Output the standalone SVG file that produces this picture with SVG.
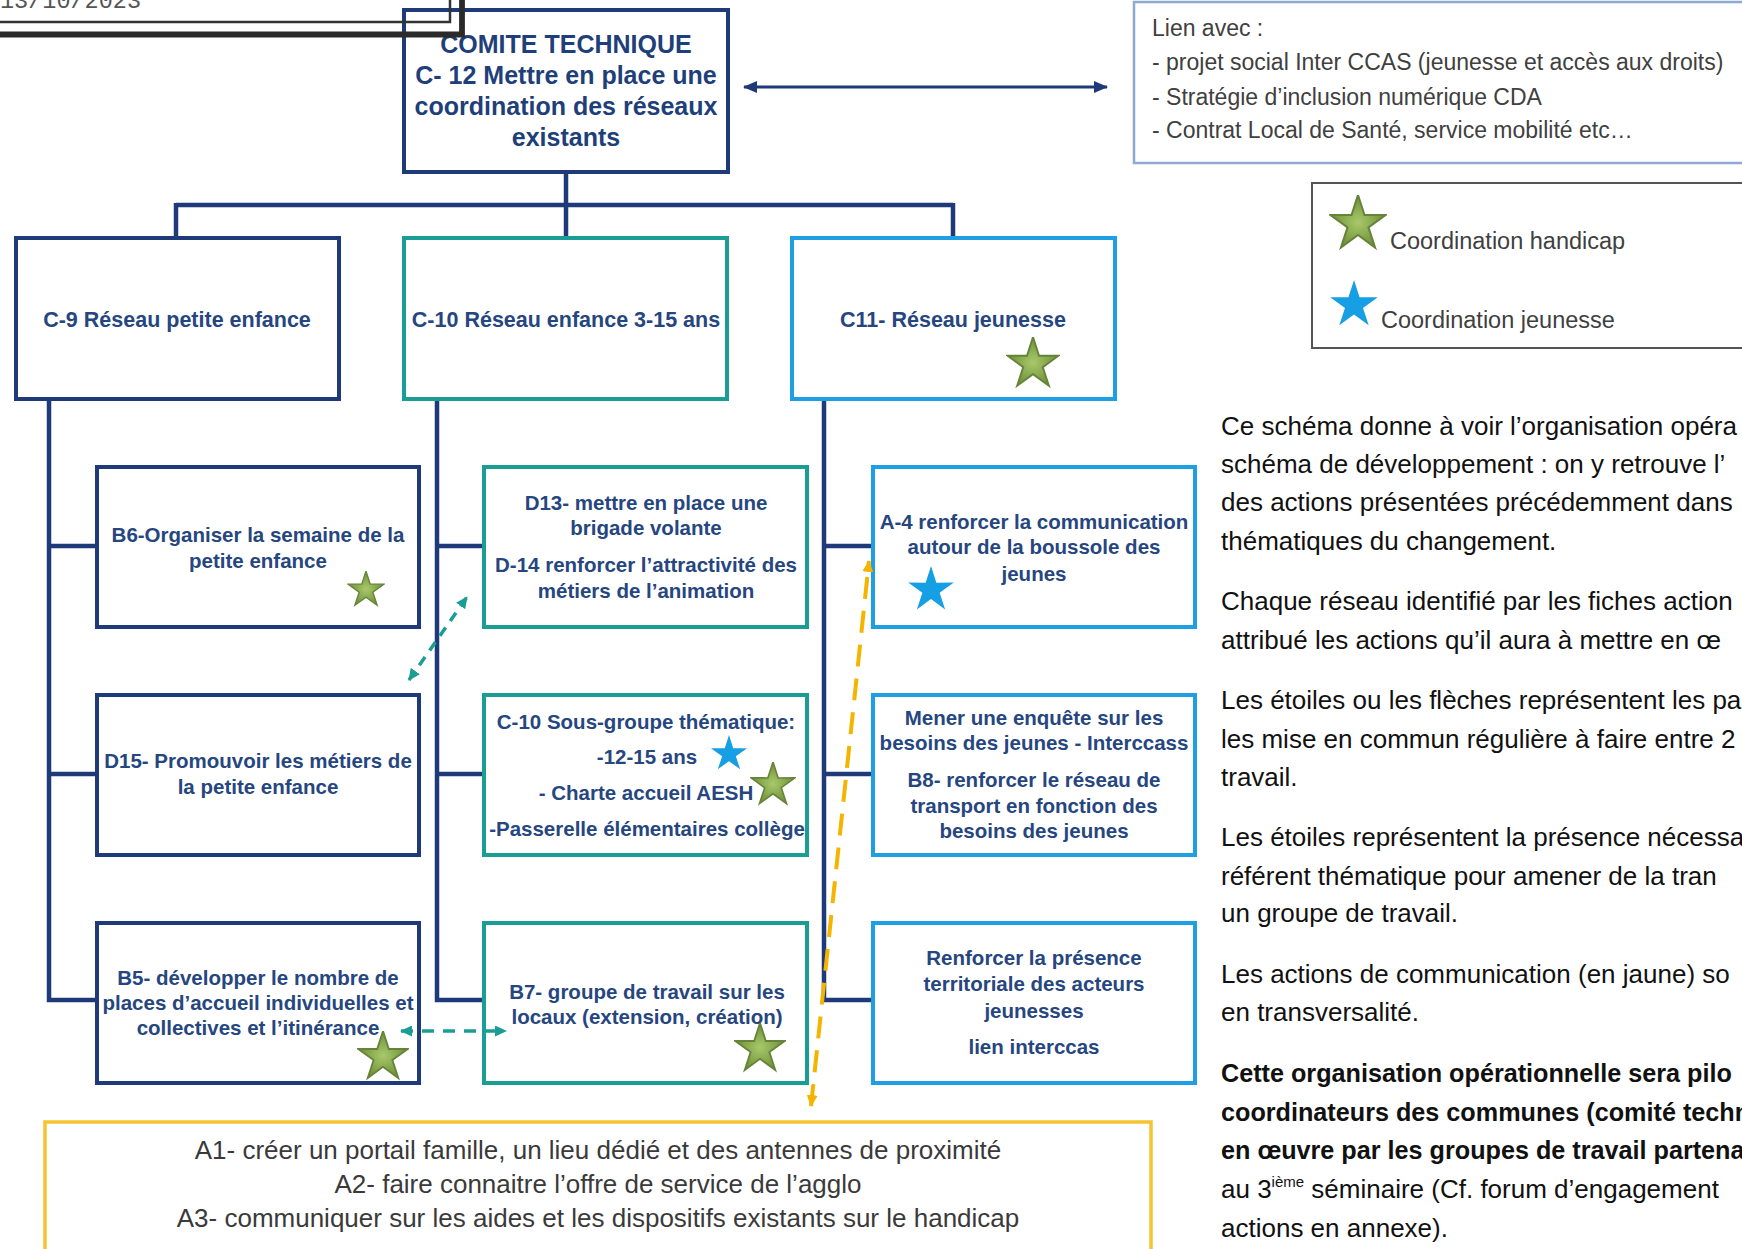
<svg xmlns="http://www.w3.org/2000/svg" xmlns:xlink="http://www.w3.org/1999/xlink" width="1742" height="1249" viewBox="0 0 1742 1249">
<style>
.bn{fill:#fff;stroke:#1f3a78;stroke-width:4}
.bt{fill:#fff;stroke:#1a9d94;stroke-width:4}
.bl{fill:#fff;stroke:#1e9fe3;stroke-width:4}
.cn{fill:none;stroke:#1f3a78;stroke-width:4.5}
.tc{font-family:"Liberation Sans",Arial,sans-serif;font-weight:bold;font-size:25px;fill:#1f3f7a;text-anchor:middle}
.t2{font-family:"Liberation Sans",Arial,sans-serif;font-weight:bold;font-size:21.5px;fill:#26467f;text-anchor:middle}
.t3{font-family:"Liberation Sans",Arial,sans-serif;font-weight:bold;font-size:20.5px;fill:#26467f;text-anchor:middle}
.lien{font-family:"Liberation Sans",Arial,sans-serif;font-size:23px;fill:#404040}
.leg{font-family:"Liberation Sans",Arial,sans-serif;font-size:23.5px;fill:#404040}
.bot{font-family:"Liberation Sans",Arial,sans-serif;font-size:26px;fill:#3a3a3a;text-anchor:middle}
.para{font-family:"Liberation Sans",Arial,sans-serif;font-size:26px;fill:#111}
.pb{font-weight:bold;font-size:25.2px}
</style>
<defs>
<radialGradient id="gg" cx="50%" cy="52%" r="50%">
<stop offset="0" stop-color="#a8c86a"/>
<stop offset="1" stop-color="#70903a"/>
</radialGradient>
<symbol id="gstar" viewBox="-100 -100 200 200">
<path d="M0,-100 L22.3,-30.7 L95.1,-30.9 L36.1,11.7 L58.8,80.9 L0,38 L-58.8,80.9 L-36.1,11.7 L-95.1,-30.9 L-22.3,-30.7 Z" fill="url(#gg)" stroke="#66833a" stroke-width="7" stroke-linejoin="miter"/>
</symbol>
<symbol id="bstar" viewBox="-100 -100 200 200">
<path d="M0,-100 L22.3,-30.7 L95.1,-30.9 L36.1,11.7 L58.8,80.9 L0,38 L-58.8,80.9 L-36.1,11.7 L-95.1,-30.9 L-22.3,-30.7 Z" fill="#169fe4"/>
</symbol>
<marker id="ahn" viewBox="0 0 14 12" refX="13" refY="6" markerWidth="14" markerHeight="12" orient="auto-start-reverse" markerUnits="userSpaceOnUse">
<path d="M0,0 L14,6 L0,12 Z" fill="#1f3a78"/>
</marker>
<marker id="aht" viewBox="0 0 12 11" refX="11" refY="5.5" markerWidth="12" markerHeight="11" orient="auto-start-reverse" markerUnits="userSpaceOnUse">
<path d="M0,0 L12,5.5 L0,11 Z" fill="#1a9d94"/>
</marker>
<marker id="ahy" viewBox="0 0 12 11" refX="11" refY="5.5" markerWidth="12" markerHeight="11" orient="auto-start-reverse" markerUnits="userSpaceOnUse">
<path d="M0,0 L12,5.5 L0,11 Z" fill="#f4b400"/>
</marker>
</defs>

<rect x="0" y="0" width="1742" height="1249" fill="#fff"/>

<g id="connectors">
<path class="cn" d="M566 172 V205 M176 205 H953 M176 203 V238 M566 205 V238 M953 203 V238"/>
<path class="cn" d="M49 399 V1000 H97 M49 546 H97 M49 774 H97"/>
<path class="cn" d="M437 399 V1000 H484 M437 546 H484 M437 774 H484"/>
<path class="cn" d="M824 399 V1000 H873 M824 546 H873 M824 774 H873"/>
<path d="M744 87 H1107" fill="none" stroke="#1f3a78" stroke-width="3" marker-start="url(#ahn)" marker-end="url(#ahn)"/>
</g>

<g id="comite">
<rect class="bn" x="404" y="10" width="324" height="162"/>
<text class="tc" x="566" y="53" font-size="24">COMITE TECHNIQUE</text>
<text class="tc" x="566" y="84">C- 12 Mettre en place une</text>
<text class="tc" x="566" y="115">coordination des réseaux</text>
<text class="tc" x="566" y="146">existants</text>
</g>

<g id="header">
<text x="0" y="8" font-family="Liberation Mono, monospace" font-size="23.5" fill="#555">13/10/2023</text>
<path d="M0 22 H450 V0" fill="none" stroke="#333" stroke-width="2.5"/>
<path d="M0 34.5 H462 V0" fill="none" stroke="#2a2a2a" stroke-width="5.8"/>
</g>

<g id="lien">
<rect x="1134" y="2" width="640" height="161" fill="#fff" stroke="#8ea9d2" stroke-width="2.5"/>
<text class="lien" x="1152" y="36">Lien avec :</text>
<text class="lien" x="1152" y="70">- projet social Inter CCAS (jeunesse et accès aux droits)</text>
<text class="lien" x="1152" y="105">- Stratégie d’inclusion numérique CDA</text>
<text class="lien" x="1152" y="138">- Contrat Local de Santé, service mobilité etc…</text>
</g>

<g id="legend">
<rect x="1312" y="183" width="460" height="165" fill="#fff" stroke="#555" stroke-width="2"/>
<use href="#gstar" x="1329" y="195" width="58" height="58"/>
<text class="leg" x="1390" y="249">Coordination handicap</text>
<use href="#bstar" x="1329" y="280" width="50" height="50"/>
<text class="leg" x="1381" y="328">Coordination jeunesse</text>
</g>

<g id="c9">
<rect class="bn" x="16" y="238" width="323" height="161"/>
<text class="t2" x="177" y="327">C-9 Réseau petite enfance</text>
</g>
<g id="c10">
<rect class="bt" x="404" y="238" width="323" height="161"/>
<text class="t2" x="566" y="327">C-10 Réseau enfance 3-15 ans</text>
</g>
<g id="c11">
<rect class="bl" x="792" y="238" width="323" height="161"/>
<text class="t2" x="953" y="327">C11- Réseau jeunesse</text>
<use href="#gstar" x="1006" y="337" width="54" height="54"/>
</g>

<g id="b6">
<rect class="bn" x="97" y="467" width="322" height="160"/>
<text class="t3" x="258" y="542">B6-Organiser la semaine de la</text>
<text class="t3" x="258" y="568">petite enfance</text>
<use href="#gstar" x="347" y="571" width="38" height="38"/>
</g>
<g id="d13">
<rect class="bt" x="484" y="467" width="323" height="160"/>
<text class="t3" x="646" y="510">D13- mettre en place une</text>
<text class="t3" x="646" y="535">brigade volante</text>
<text class="t3" x="646" y="572">D-14 renforcer l’attractivité des</text>
<text class="t3" x="646" y="598">métiers de l’animation</text>
</g>
<g id="a4">
<rect class="bl" x="873" y="467" width="322" height="160"/>
<text class="t3" x="1034" y="529">A-4 renforcer la communication</text>
<text class="t3" x="1034" y="554">autour de la boussole des</text>
<text class="t3" x="1034" y="581">jeunes</text>
<use href="#bstar" x="907" y="566" width="48" height="48"/>
</g>

<g id="d15">
<rect class="bn" x="97" y="695" width="322" height="160"/>
<text class="t3" x="258" y="768">D15- Promouvoir les métiers de</text>
<text class="t3" x="258" y="794">la petite enfance</text>
</g>
<g id="c10sg">
<rect class="bt" x="484" y="695" width="323" height="160"/>
<text class="t3" x="646" y="729">C-10 Sous-groupe thématique:</text>
<text class="t3" x="647" y="764">-12-15 ans</text>
<use href="#bstar" x="710" y="735" width="38" height="38"/>
<text class="t3" x="646" y="800">- Charte accueil AESH</text>
<use href="#gstar" x="750" y="762" width="46" height="46"/>
<text class="t3" x="647" y="836">-Passerelle élémentaires collège</text>
</g>
<g id="mener">
<rect class="bl" x="873" y="695" width="322" height="160"/>
<text class="t3" x="1034" y="725">Mener une enquête sur les</text>
<text class="t3" x="1034" y="750">besoins des jeunes - Interccass</text>
<text class="t3" x="1034" y="787">B8- renforcer le réseau de</text>
<text class="t3" x="1034" y="813">transport en fonction des</text>
<text class="t3" x="1034" y="838">besoins des jeunes</text>
</g>

<g id="b5">
<rect class="bn" x="97" y="923" width="322" height="160"/>
<text class="t3" x="258" y="985">B5- développer le nombre de</text>
<text class="t3" x="258" y="1010">places d’accueil individuelles et</text>
<text class="t3" x="258" y="1035">collectives et l’itinérance</text>
<use href="#gstar" x="357" y="1031" width="52" height="52"/>
</g>
<g id="b7">
<rect class="bt" x="484" y="923" width="323" height="160"/>
<text class="t3" x="647" y="999">B7- groupe de travail sur les</text>
<text class="t3" x="647" y="1024">locaux (extension, création)</text>
<use href="#gstar" x="734" y="1023" width="52" height="52"/>
</g>
<g id="renforcer">
<rect class="bl" x="873" y="923" width="322" height="160"/>
<text class="t3" x="1034" y="965">Renforcer la présence</text>
<text class="t3" x="1034" y="991">territoriale des acteurs</text>
<text class="t3" x="1034" y="1018">jeunesses</text>
<text class="t3" x="1034" y="1054">lien interccas</text>
</g>

<g id="dashed-links">
<path d="M409 680 L467 597" fill="none" stroke="#1a9d94" stroke-width="3.5" stroke-dasharray="10 8" marker-start="url(#aht)" marker-end="url(#aht)"/>
<path d="M401 1031 H506" fill="none" stroke="#1a9d94" stroke-width="3.5" stroke-dasharray="12 9" marker-start="url(#aht)" marker-end="url(#aht)"/>
<path d="M811 1106 L869 561" fill="none" stroke="#f4b400" stroke-width="4" stroke-dasharray="22 12" marker-start="url(#ahy)" marker-end="url(#ahy)"/>
</g>

<g id="communication">
<rect x="45" y="1122" width="1106" height="150" fill="#fff" stroke="#f5c431" stroke-width="3.5"/>
<text class="bot" x="598" y="1159">A1- créer un portail famille, un lieu dédié et des antennes de proximité</text>
<text class="bot" x="598" y="1193">A2- faire connaitre l’offre de service de l’agglo</text>
<text class="bot" x="598" y="1227">A3- communiquer sur les aides et les dispositifs existants sur le handicap</text>
</g>

<g id="explanation">
<text class="para" x="1221" y="435">Ce schéma donne à voir l’organisation opéra</text>
<text class="para" x="1221" y="473">schéma de développement : on y retrouve l’</text>
<text class="para" x="1221" y="511">des actions présentées précédemment dans</text>
<text class="para" x="1221" y="550">thématiques du changement.</text>
<text class="para" x="1221" y="610">Chaque réseau identifié par les fiches action</text>
<text class="para" x="1221" y="649">attribué les actions qu’il aura à mettre en œ</text>
<text class="para" x="1221" y="709">Les étoiles ou les flèches représentent les pa</text>
<text class="para" x="1221" y="748">les mise en commun régulière à faire entre 2</text>
<text class="para" x="1221" y="786">travail.</text>
<text class="para" x="1221" y="846">Les étoiles représentent la présence nécessa</text>
<text class="para" x="1221" y="885">référent thématique pour amener de la tran</text>
<text class="para" x="1221" y="922">un groupe de travail.</text>
<text class="para" x="1221" y="983">Les actions de communication (en jaune) so</text>
<text class="para" x="1221" y="1021">en transversalité.</text>
<text class="para pb" x="1221" y="1082">Cette organisation opérationnelle sera pilo</text>
<text class="para pb" x="1221" y="1121">coordinateurs des communes (comité techn</text>
<text class="para pb" x="1221" y="1159">en œuvre par les groupes de travail partena</text>
<text class="para" x="1221" y="1198">au 3<tspan font-size="15" dy="-11">ième</tspan><tspan dy="11"> séminaire (Cf. forum d’engagement</tspan></text>
<text class="para" x="1221" y="1237">actions en annexe).</text>
</g>
</svg>
